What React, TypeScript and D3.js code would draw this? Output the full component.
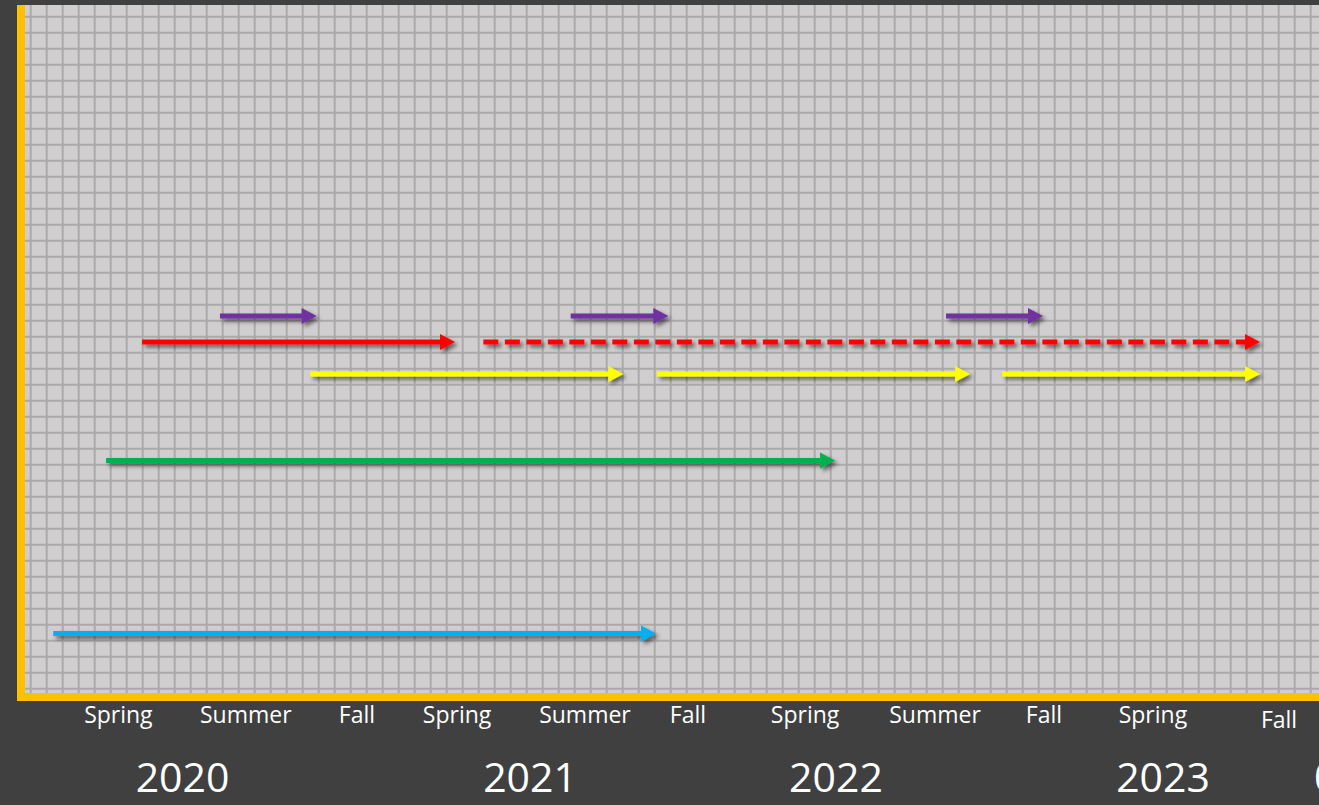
import * as d3 from "d3";
import React from "react";

// positions are read in grid cells (16px squares of the background grid)
const seasonLabels = ["Spring", "Summer", "Fall", "Spring", "Summer", "Fall", "Spring", "Summer", "Fall", "Spring", "Fall"];
const seasonCols = [5.48, 13.44, 20.39, 26.65, 34.64, 41.08, 48.4, 56.52, 63.33, 70.14, 78.02];
const seasonDrop = [0, 0, 0, 0, 0, 0, 0, 0, 0, 0, 5];

const yearLabels = ["2020", "2021", "2022", "2023"];
const yearCols = [9.49, 31.21, 50.33, 70.77];

// arrows: start col, end col, row
const arrowColor = ["#7030a0", "#7030a0", "#7030a0", "#ff0000", "#ff0000", "#ffff00", "#ffff00", "#ffff00", "#00b050", "#00b0f0"];
const arrowStart = [11.83, 33.75, 57.21, 6.96, 28.29, 17.46, 39.13, 60.71, 4.71, 1.41];
const arrowEnd = [17.87, 39.85, 63.27, 26.52, 76.83, 37.04, 58.71, 76.83, 50.27, 39.08];
const arrowRow = [18.7, 18.7, 18.7, 20.33, 20.33, 22.33, 22.33, 22.33, 27.74, 38.55];
const arrowDashed = [false, false, false, false, true, false, false, false, false, false];

const W = 1319;
const H = 805;

export default function App() {
  const x = d3.scaleLinear().domain([0, 80]).range([30.7, 30.7 + 16 * 80]);
  const y = d3.scaleLinear().domain([0, 42]).range([16.7, 16.7 + 16 * 42]);

  const plotLeft = 25, plotTop = 5, plotBottom = 693;
  const cols = d3.range(0, 81);
  const rows = d3.range(0, 43);

  const head = 15, half = 8;

  return (
    <div style={{ position: "fixed", left: 0, top: 0, width: W, height: H, background: "#404040" }}>
      <svg width={W} height={H} style={{ display: "block" }}>
        <defs>
          <filter id="shadow" x="-10%" y="-100%" width="130%" height="400%">
            <feDropShadow dx="3" dy="3" stdDeviation="2" floodColor="#000" floodOpacity="0.55" />
          </filter>
        </defs>
        <rect x={0} y={0} width={W} height={H} fill="#404040" />
        <rect x={plotLeft} y={plotTop} width={W - plotLeft} height={plotBottom - plotTop} fill="#d0cece" />
        <g stroke="#aba9a9" strokeWidth={2}>
          {cols.map((c) => (
            <line key={"c" + c} x1={x(c)} x2={x(c)} y1={plotTop} y2={plotBottom} />
          ))}
          {rows.map((r) => (
            <line key={"r" + r} x1={plotLeft} x2={W} y1={y(r)} y2={y(r)} />
          ))}
        </g>

        {/* axes */}
        <rect x={17} y={plotTop} width={8} height={701 - plotTop} fill="#ffc000" />
        <rect x={17} y={plotBottom} width={W - 17} height={8} fill="#ffc000" />

        {/* arrows */}
        <g filter="url(#shadow)">
          {arrowStart.map((s, i) => {
            const x0 = x(s);
            const x1 = x(arrowEnd[i]);
            const yy = y(arrowRow[i]);
            return (
              <g key={"a" + i}>
                <line
                  x1={x0}
                  x2={x1 - head + 1}
                  y1={yy}
                  y2={yy}
                  stroke={arrowColor[i]}
                  strokeWidth={5}
                  strokeDasharray={arrowDashed[i] ? "15 6.5" : undefined}
                />
                <path
                  d={`M${x1 - head},${yy - half}L${x1},${yy}L${x1 - head},${yy + half}Z`}
                  fill={arrowColor[i]}
                />
              </g>
            );
          })}
        </g>

        {/* season labels */}
        <g fill="#fff" fontFamily="'Open Sans', sans-serif" fontSize={23} textAnchor="middle">
          {seasonLabels.map((t, i) => (
            <text key={"s" + i} x={x(seasonCols[i])} y={723 + seasonDrop[i]}>
              {t}
            </text>
          ))}
        </g>
        <g fill="#fff" fontFamily="'Open Sans', sans-serif" fontSize={41} textAnchor="middle">
          {yearLabels.map((t, i) => (
            <text key={"y" + i} x={x(yearCols[i])} y={792}>
              {t}
            </text>
          ))}
          <text x={1314} y={792} textAnchor="start">0</text>
        </g>
      </svg>
    </div>
  );
}
